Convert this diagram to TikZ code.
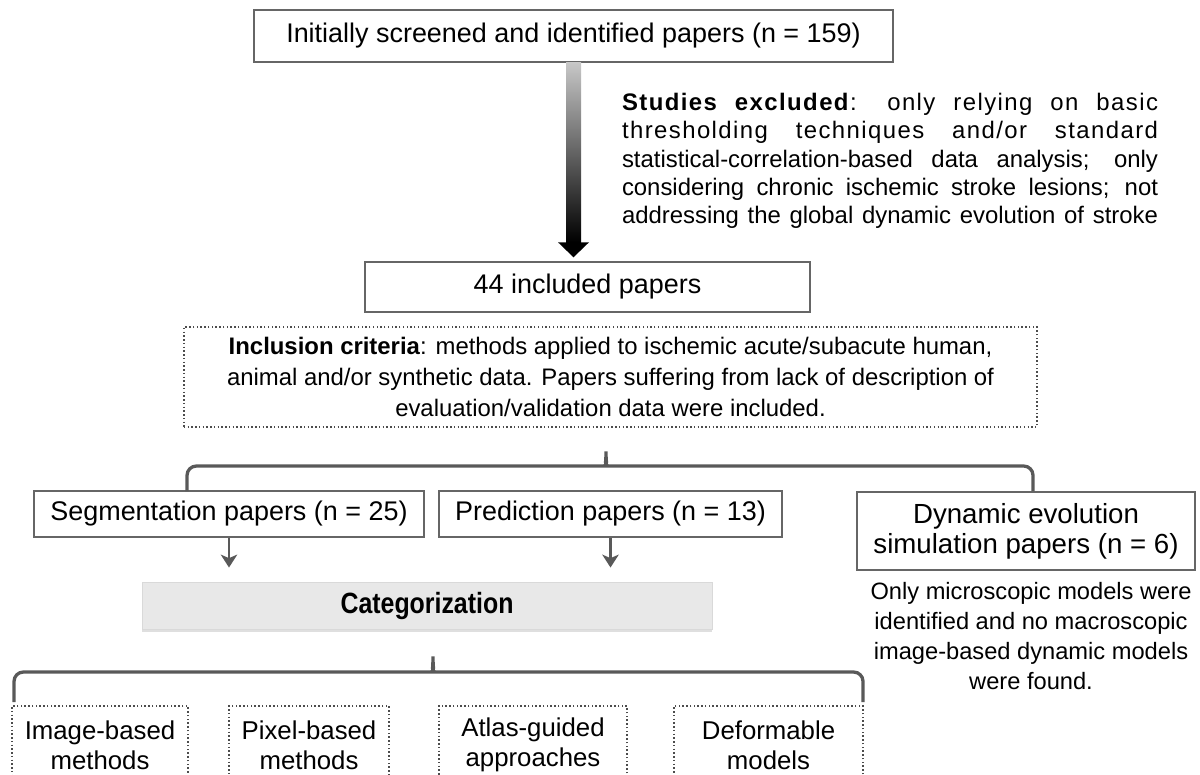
\documentclass[tikz,border=0pt]{standalone}
\usepackage{fontspec}
\setmainfont{Liberation Sans}
\newfontfamily\catfont[FakeStretch=0.85]{Liberation Sans}
\usetikzlibrary{arrows.meta,shadows,calc}

\newcommand\fullline[1]{\makebox[8.04cm][s]{#1}}
\newcommand\wideline[1]{\makebox[8.04cm][s]{\addfontfeature{LetterSpace=6}#1}}

\tikzset{
  paper/.style={draw=black!60, line width=0.6pt, fill=white, align=center, inner sep=0pt, font=\fontsize{11.5}{12.75}\selectfont},
  crit/.style={draw=black!70, densely dotted, line width=0.6pt, align=center, inner sep=0pt},
  method/.style={crit, font=\fontsize{11}{12.75}\selectfont},
  catbox/.style={fill=black!9, draw=black!15, inner sep=0pt, drop shadow={opacity=0.25, shadow xshift=0pt, shadow yshift=-1.2pt}},
  brace/.style={draw=black!65, line width=1.4pt, rounded corners=4pt},
  down/.style={draw=black!65, line width=1.2pt, -{Stealth[length=5.5pt,width=7pt,inset=1.5pt]}},
}

\begin{document}
\begin{tikzpicture}[x=0.015cm, y=-0.015cm]
\useasboundingbox (0,0) rectangle (1200,775);
\clip (0,0) rectangle (1200,775);

% main boxes
\node[paper, minimum width=9.585cm, minimum height=0.78cm] (screened) at (573.5,36) {Initially screened and identified papers (n = 159)};
\node[paper, minimum width=6.675cm, minimum height=0.75cm] (incl) at (587.5,287) {44 included papers};
\node[crit, minimum width=12.795cm, minimum height=1.5cm, font=\fontsize{10.2}{13.2}\selectfont] (criteria) at (610.5,377)
  {\textbf{Inclusion criteria}: methods applied to ischemic acute/subacute human,\\
   animal and/or synthetic data. Papers suffering from lack of description of\\
   evaluation/validation data were included.};

% excluded studies
\node[inner sep=0pt, align=left, font=\fontsize{10.2}{12.1}\selectfont] (excl) at (890,161)
  {\wideline{\textbf{Studies excluded}: only relying on basic}\\
   \wideline{thresholding techniques and/or standard}\\
   \fullline{statistical-correlation-based data analysis; only}\\
   \fullline{considering chronic ischemic stroke lesions; not}\\
   \fullline{addressing the global dynamic evolution of stroke}};

% big arrow
\coordinate (tip) at ($(screened.south |- incl.north)+(0,-4)$);
\shade[top color=black!22, bottom color=black] ($(screened.south)+(-7.5,0)$) rectangle ($(tip)+(7.5,-15)$);
\fill ($(tip)+(-15.5,-15)$) -- ($(tip)+(15.5,-15)$) -- (tip) -- cycle;

% paper groups
\node[paper, minimum width=5.85cm, minimum height=0.69cm] (seg) at (229,514) {Segmentation papers (n = 25)};
\node[paper, minimum width=5.145cm, minimum height=0.69cm] (pred) at (610.5,514) {Prediction papers (n = 13)};
\node[paper, minimum width=5.07cm, minimum height=1.17cm, font=\fontsize{11.8}{12.75}\selectfont] (dyn) at (1026,531) {Dynamic evolution\\simulation papers (n = 6)};
\node[align=center, inner sep=0pt, font=\fontsize{10.1}{12.75}\selectfont] (dynnote) at (1031,636)
  {Only microscopic models were\\identified and no macroscopic\\image-based dynamic models\\were found.};

\coordinate (b1l) at (187,491);
\coordinate (b1c) at (606,446);
\coordinate (b1r) at (1033,491);
\draw[brace] (b1l) -- (187,466) -- (599,466) .. controls (604,466) and (606,460) .. (b1c)
  .. controls (606,460) and (608,466) .. (613,466) -- (1033,466) -- (b1r);

% categorization
\node[catbox, minimum width=8.55cm, minimum height=0.705cm, font=\catfont\bfseries\fontsize{12.5}{13}\selectfont] (cat) at (427,605.5) {Categorization};
\draw[down, shorten >=0.21cm] (seg.south) -- (seg.south |- cat.north);
\draw[down, shorten >=0.21cm] (pred.south) -- (pred.south |- cat.north);

\coordinate (b2l) at (14,702);
\coordinate (b2c) at (433,651);
\coordinate (b2r) at (863,702);
\draw[brace] (b2l) -- (14,672) -- (426,672) .. controls (431,672) and (433,666) .. (b2c)
  .. controls (433,666) and (435,672) .. (440,672) -- (863,672) -- (b2r);

% methods
\foreach \n/\cx/\w/\txt in {m1/100/2.64/{Image-based\\methods}, m2/309/2.4/{Pixel-based\\methods},
  m3/533/2.82/{Atlas-guided\\approaches}, m4/768.5/2.835/{Deformable\\models}}
  \node[method, minimum width=\w cm, minimum height=1.17cm] (\n) at (\cx,745) {\txt};
\end{tikzpicture}
\end{document}
